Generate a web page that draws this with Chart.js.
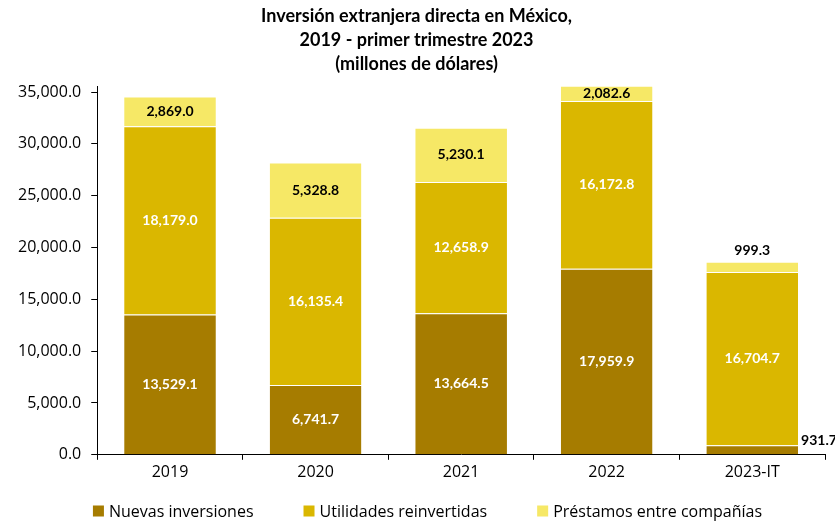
<!DOCTYPE html>
<html>
<head>
<meta charset="utf-8">
<script src="https://cdn.jsdelivr.net/npm/chart.js@4/dist/chart.umd.min.js"></script>
<style>
  body { margin: 0; background: #fff; }
  #wrap { width: 835px; height: 524px; }
</style>
</head>
<body>
<div id="wrap"><canvas id="ied-chart"></canvas></div>
<script>
// Años / periodos
const years = ["2019", "2020", "2021", "2022", "2023-IT"];

// Componentes de la IED (millones de dólares)
const nuevasInversiones = [13529.1, 6741.7, 13664.5, 17959.9, 931.7];
const utilidadesReinvertidas = [18179.0, 16135.4, 12658.9, 16172.8, 16704.7];
const prestamosCompanias = [2869.0, 5328.8, 5230.1, 2082.6, 999.3];

const yTicks = [0, 5000, 10000, 15000, 20000, 25000, 30000, 35000];

const TITLE_FONT = "Lato, 'Open Sans', sans-serif";
const AXIS_FONT = "'Open Sans', 'Noto Sans', sans-serif";

function fmt(v) {
  return v.toLocaleString("en-US", { minimumFractionDigits: 1, maximumFractionDigits: 1 });
}

// Etiquetas de valor dentro / junto a cada segmento
const segmentLabels = {
  id: "segmentLabels",
  afterDatasetsDraw(chart) {
    const ctx = chart.ctx;
    ctx.save();
    ctx.font = "bold 14px " + TITLE_FONT;
    ctx.textBaseline = "middle";
    chart.data.datasets.forEach((ds, di) => {
      const meta = chart.getDatasetMeta(di);
      meta.data.forEach((bar, i) => {
        const value = ds.data[i];
        const top = Math.max(bar.y, chart.chartArea.top);
        const h = bar.base - top;
        if (h >= 12) {
          ctx.textAlign = "center";
          ctx.fillStyle = ds.labelColor;
          ctx.fillText(fmt(value), bar.x, (top + bar.base) / 2);
        } else if (di === chart.data.datasets.length - 1) {
          // segmento pequeño arriba: etiqueta sobre la barra
          ctx.textAlign = "center";
          ctx.fillStyle = "#000";
          ctx.fillText(fmt(value), bar.x, bar.y - 11);
        } else {
          // segmento pequeño abajo: etiqueta a la derecha
          ctx.textAlign = "left";
          ctx.fillStyle = "#000";
          ctx.fillText(fmt(value), bar.x + bar.width / 2 + 3, bar.y - 5);
        }
      });
    });
    ctx.restore();
  }
};

// Leyenda inferior con separación amplia entre elementos
const wideLegend = {
  id: "wideLegend",
  afterDraw(chart) {
    const ctx = chart.ctx;
    const box = 11, gapText = 5, gapItem = 50;
    ctx.save();
    ctx.font = "16px " + AXIS_FONT;
    ctx.textBaseline = "middle";
    ctx.textAlign = "left";
    const items = chart.data.datasets.map((ds) => ({
      text: ds.label,
      color: ds.backgroundColor,
      w: box + gapText + ctx.measureText(ds.label).width,
    }));
    const total = items.reduce((s, it) => s + it.w, 0) + gapItem * (items.length - 1);
    let x = chart.width / 2 + 10 - total / 2;
    const y = chart.height - 13;
    items.forEach((it) => {
      ctx.fillStyle = it.color;
      ctx.fillRect(x, y - box / 2, box, box);
      ctx.fillStyle = "#000";
      ctx.fillText(it.text, x + box + gapText, y + 1);
      x += it.w + gapItem;
    });
    ctx.restore();
  }
};

function createChart() {
  const ctx = document.getElementById("ied-chart").getContext("2d");

  return new Chart(ctx, {
    type: "bar",
    data: {
      labels: years,
      datasets: [
        {
          label: "Nuevas inversiones",
          data: nuevasInversiones,
          backgroundColor: "#a67c00",
          labelColor: "#fff",
        },
        {
          label: "Utilidades reinvertidas",
          data: utilidadesReinvertidas,
          backgroundColor: "#dab700",
          labelColor: "#fff",
        },
        {
          label: "Préstamos entre compañías",
          data: prestamosCompanias,
          backgroundColor: "#f6e866",
          labelColor: "#000",
        },
      ],
    },
    options: {
      responsive: true,
      maintainAspectRatio: false,
      animation: false,
      layout: { padding: { left: 8, right: 10, top: 0, bottom: 39 } },
      datasets: {
        bar: {
          barPercentage: 0.63,
          categoryPercentage: 1,
          borderWidth: { top: 1 },
          borderColor: "rgba(255,255,255,0.2)",
          borderSkipped: "bottom",
        },
      },
      scales: {
        x: {
          stacked: true,
          grid: {
            display: true,
            drawOnChartArea: false,
            drawTicks: true,
            tickLength: 5,
            offset: true,
            color: "#000",
          },
          border: { display: true, color: "#000", width: 1 },
          ticks: {
            color: "#000",
            font: { family: AXIS_FONT, size: 16 },
            padding: 3,
          },
        },
        y: {
          stacked: true,
          min: 0,
          max: 35500,
          afterBuildTicks(axis) {
            axis.ticks = yTicks.map((v) => ({ value: v }));
          },
          grid: {
            display: true,
            drawOnChartArea: false,
            drawTicks: true,
            tickLength: 6,
            color: "#000",
          },
          border: { display: true, color: "#000", width: 1 },
          ticks: {
            color: "#000",
            font: { family: AXIS_FONT, size: 16 },
            padding: 10,
            callback: (v) => fmt(v),
          },
        },
      },
      plugins: {
        title: {
          display: true,
          text: [
            "Inversión extranjera directa en México,",
            "2019 - primer trimestre 2023",
            "(millones de dólares)",
          ],
          color: "#000",
          font: { family: TITLE_FONT, size: 18, weight: "bold", lineHeight: 1.33 },
          padding: { top: 4, bottom: 11 },
        },
        legend: { display: false },
        tooltip: { enabled: false },
      },
    },
    plugins: [segmentLabels, wideLegend],
  });
}

const iedChart = createChart();
</script>
</body>
</html>
